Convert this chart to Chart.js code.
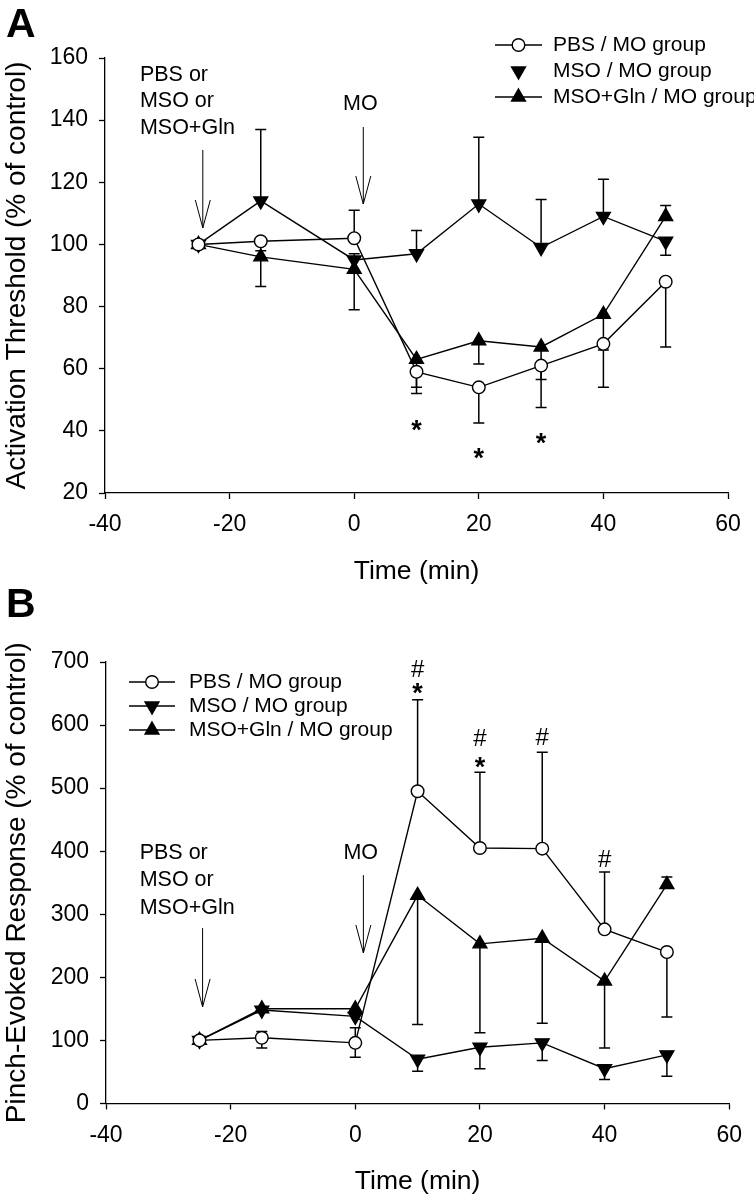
<!DOCTYPE html>
<html><head><meta charset="utf-8">
<script src="https://cdn.jsdelivr.net/npm/chart.js@4"></script>
<style>
html,body{margin:0;padding:0;background:#fff;}
#wrap{position:relative;width:754px;height:1200px;background:#fff;}
.box{position:absolute;left:0;width:754px;}
</style></head><body>
<div id="wrap">
<div class="box" style="top:0;height:600px"><canvas id="cA" width="754" height="600"></canvas></div>
<div class="box" style="top:580px;height:620px"><canvas id="cB" width="754" height="620"></canvas></div>
</div>
<script>
// ---------- DATA ----------
const timePoints = [-25, -15, 0, 10, 20, 30, 40, 50];
const xTicks = [-40, -20, 0, 20, 40, 60];
const yTicksA = [20, 40, 60, 80, 100, 120, 140, 160];
const yTicksB = [0, 100, 200, 300, 400, 500, 600, 700];
const seriesNames = ['PBS / MO group', 'MSO / MO group', 'MSO+Gln / MO group'];

// Panel A: Activation Threshold (% of control)
const pbsA = [100, 101, 102, 59, 54, 61, 68, 88];
const pbsA_errUp = [0, 0, 9, 0, 0, 0, 0, 0];
const pbsA_errDown = [0, 3, 0, 7, 11.5, 13.5, 14, 21];
const msoA = [100, 114, 95, 97, 113, 99, 109, 101];
const msoA_errUp = [0, 23, 2, 7.5, 21.5, 15.5, 12, 0];
const msoA_errDown = [0, 0, 0, 0, 0, 0, 0, 4.5];
const glnA = [100, 96, 92, 63, 69, 67, 77.5, 109];
const glnA_errUp = [0, 0, 0, 0, 0, 0, 0, 3.5];
const glnA_errDown = [0, 9.5, 13, 9, 7.5, 10.5, 11.5, 0];
const sigA_x = [10, 20, 30];
const sigA_y = [42, 33, 38];

// Panel B: Pinch-Evoked Response (% of control)
const pbsB = [100, 104, 96, 495, 405, 404, 276, 240];
const pbsB_errUp = [0, 10, 24, 145, 120, 153, 91, 0];
const pbsB_errDown = [0, 16, 23, 0, 0, 0, 0, 103];
const msoB = [100, 148, 138, 70, 89, 96, 55, 77];
const msoB_errUp = [0, 0, 0, 0, 0, 0, 0, 0];
const msoB_errDown = [0, 0, 0, 19, 34, 28, 17, 34];
const glnB = [100, 150, 150, 330, 253, 262, 194, 347];
const glnB_errUp = [0, 0, 0, 0, 0, 0, 0, 12];
const glnB_errDown = [0, 0, 0, 205, 141, 135, 106, 0];
const hashB_x = [10, 20, 30, 40];
const hashB_y = [690, 580, 582, 388];
const starB_x = [10, 20];
const starB_y = [660, 543];

// ---------- RENDER ----------
const FAM = "'Liberation Sans', Arial, Helvetica, sans-serif";
const styles = [
  {pointStyle: 'circle', radius: 6.3, rotation: 0, bg: '#fff'},
  {pointStyle: 'triangle', radius: 8, rotation: 180, bg: '#000'},
  {pointStyle: 'triangle', radius: 8, rotation: 0, bg: '#000'}
];

function ds(i, vals, up, down) {
  const s = styles[i];
  return {
    label: seriesNames[i],
    data: timePoints.map((t, k) => ({x: t, y: vals[k]})),
    errUp: up, errDown: down,
    borderColor: '#000', borderWidth: 1.4,
    pointStyle: s.pointStyle, pointRadius: s.radius, pointRotation: s.rotation,
    pointBackgroundColor: s.bg, pointBorderColor: '#000', pointBorderWidth: 1.4,
    fill: false, tension: 0, clip: false
  };
}

const errorBars = {
  id: 'errorBars',
  beforeDatasetsDraw(chart) {
    const ctx = chart.ctx, xs = chart.scales.x, ys = chart.scales.y;
    ctx.save();
    ctx.strokeStyle = '#000'; ctx.lineWidth = 1.5;
    chart.data.datasets.forEach(d => {
      d.data.forEach((p, k) => {
        const px = xs.getPixelForValue(p.x), py = ys.getPixelForValue(p.y);
        [[d.errUp[k], 1], [d.errDown[k], -1]].forEach(([e, s]) => {
          if (!e) return;
          const ey = ys.getPixelForValue(p.y + s * e);
          ctx.beginPath();
          ctx.moveTo(px, py); ctx.lineTo(px, ey);
          ctx.moveTo(px - 5.5, ey); ctx.lineTo(px + 5.5, ey);
          ctx.stroke();
        });
      });
    });
    ctx.restore();
  }
};

const glyphOffset = {'*': 0.55, '#': 0.36};
function glyphAt(ctx, t, x, y, font, size) {
  ctx.font = font;
  ctx.textAlign = 'center';
  ctx.textBaseline = 'alphabetic';
  ctx.fillText(t, x, y + size * (glyphOffset[t] || 0.36));
}

const annot = {
  id: 'annot',
  afterDraw(chart, args, o) {
    const ctx = chart.ctx, xs = chart.scales.x, ys = chart.scales.y;
    ctx.save();
    ctx.fillStyle = '#000'; ctx.strokeStyle = '#000';
    // panel letter
    ctx.font = 'bold 41px ' + FAM; ctx.textAlign = 'left'; ctx.textBaseline = 'alphabetic';
    ctx.fillText(o.letter, o.letterX, o.letterY);
    // arrows
    ctx.lineWidth = 1;
    o.arrows.forEach(a => {
      const x = xs.getPixelForValue(a.x), y1 = ys.getPixelForValue(a.y1), y2 = ys.getPixelForValue(a.y2);
      ctx.beginPath();
      ctx.moveTo(x, y1); ctx.lineTo(x, y2);
      ctx.moveTo(x - 7.5, y2 - 28); ctx.lineTo(x, y2); ctx.lineTo(x + 7.5, y2 - 28);
      ctx.stroke();
    });
    // labels
    ctx.font = '21.5px ' + FAM; ctx.textAlign = 'left'; ctx.textBaseline = 'middle';
    o.labels.forEach(l => ctx.fillText(l.t, xs.getPixelForValue(l.x), ys.getPixelForValue(l.y)));
    // significance marks
    o.marks.forEach(m => {
      const font = m.t === '*' ? 'bold 27px ' + FAM : '24px ' + FAM;
      const size = m.t === '*' ? 27 : 24;
      glyphAt(ctx, m.t, xs.getPixelForValue(m.x), ys.getPixelForValue(m.y), font, size);
    });
    // legend
    const L = o.legend;
    ctx.font = '21px ' + FAM; ctx.textAlign = 'left'; ctx.textBaseline = 'middle';
    chart.data.datasets.forEach((d, i) => {
      const y = L.rows[i];
      if (L.lines[i]) {
        ctx.lineWidth = 1.4; ctx.strokeStyle = '#000';
        ctx.beginPath(); ctx.moveTo(L.x0, y); ctx.lineTo(L.x1, y); ctx.stroke();
      }
      ctx.fillStyle = d.pointBackgroundColor; ctx.strokeStyle = '#000'; ctx.lineWidth = 1.4;
      Chart.helpers.drawPoint(ctx, {pointStyle: d.pointStyle, radius: d.pointRadius, rotation: d.pointRotation, borderWidth: 1.4}, (L.x0 + L.x1) / 2, y);
      ctx.fillStyle = '#000';
      ctx.fillText(d.label, L.tx, y);
    });
    ctx.restore();
  }
};

function axisOpts(ticksArr, min, max, title, isX, fit, titleSize) {
  return {
    type: 'linear', min: min, max: max,
    afterBuildTicks: s => { s.ticks = ticksArr.map(v => ({value: v})); },
    grid: {display: true, drawOnChartArea: false, drawTicks: true, tickLength: 6, tickColor: '#000', tickWidth: 1.3},
    border: {display: true, color: '#000', width: 1.3},
    ticks: {color: '#000', font: {family: FAM, size: 23}, padding: isX ? 12 : 11, maxRotation: 0, autoSkip: false},
    title: {display: true, text: title, color: '#000', font: {family: FAM, size: titleSize}, padding: 0},
    afterFit: s => { if (isX) s.height = fit; else s.width = fit; }
  };
}

function makeChart(id, sets, yTicks, ymin, ymax, ytitle, pad, xFit, yFit, annOpts) {
  return new Chart(document.getElementById(id), {
    type: 'line',
    data: {datasets: sets},
    options: {
      responsive: false, animation: false, devicePixelRatio: 1,
      layout: {padding: pad},
      plugins: {legend: {display: false}, tooltip: {enabled: false}, annot: annOpts},
      scales: {
        x: axisOpts(xTicks, -40, 60, 'Time (min)', true, xFit, 26.5),
        y: axisOpts(yTicks, ymin, ymax, ytitle, false, yFit, 28)
      }
    },
    plugins: [errorBars, annot]
  });
}

makeChart('cA',
  [ds(0, pbsA, pbsA_errUp, pbsA_errDown), ds(1, msoA, msoA_errUp, msoA_errDown), ds(2, glnA, glnA_errUp, glnA_errDown)],
  yTicksA, 20, 160, 'Activation Threshold (% of control)',
  {top: 58, right: 26, bottom: 12, left: 0}, 95, 105,
  {
    letter: 'A', letterX: 6, letterY: 37,
    arrows: [{x: -24.3, y1: 130.4, y2: 105.3}, {x: 1.46, y1: 137.8, y2: 113}],
    labels: [{x: -34.4, y: 154.5, t: 'PBS or'}, {x: -34.4, y: 146.2, t: 'MSO or'}, {x: -34.4, y: 137.6, t: 'MSO+Gln'}, {x: -1.8, y: 145.2, t: 'MO'}],
    marks: sigA_x.map((x, i) => ({x: x, y: sigA_y[i], t: '*'})),
    legend: {rows: [45, 71, 97], lines: [true, false, true], x0: 495, x1: 542, tx: 553}
  });

makeChart('cB',
  [ds(0, pbsB, pbsB_errUp, pbsB_errDown), ds(1, msoB, msoB_errUp, msoB_errDown), ds(2, glnB, glnB_errUp, glnB_errDown)],
  yTicksB, 0, 700, 'Pinch-Evoked Response (% of control)',
  {top: 82, right: 21, bottom: 2, left: 0}, 94.6, 106,
  {
    letter: 'B', letterX: 6, letterY: 37,
    arrows: [{x: -24.5, y1: 278, y2: 153}, {x: 1.3, y1: 362, y2: 238.5}],
    labels: [{x: -34.6, y: 397, t: 'PBS or'}, {x: -34.6, y: 354, t: 'MSO or'}, {x: -34.6, y: 310, t: 'MSO+Gln'}, {x: -1.9, y: 397, t: 'MO'}],
    marks: hashB_x.map((x, i) => ({x: x, y: hashB_y[i], t: '#'})).concat(starB_x.map((x, i) => ({x: x, y: starB_y[i], t: '*'}))),
    legend: {rows: [102, 126, 150], lines: [true, true, true], x0: 129, x1: 175, tx: 189}
  });
</script>
</body></html>
